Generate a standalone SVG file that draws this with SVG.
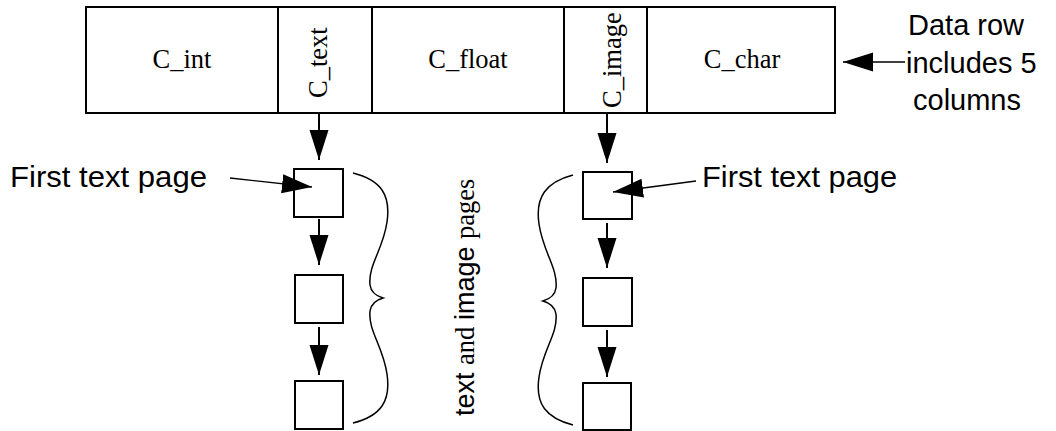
<svg xmlns="http://www.w3.org/2000/svg" width="1056" height="431" viewBox="0 0 1056 431">
  <style>
    .box { fill: #fff; stroke: #000; stroke-width: 2; }
    .link { fill: none; stroke: #000; stroke-width: 2; }
    .ptr { fill: none; stroke: #000; stroke-width: 1.3; }
    .brace { fill: none; stroke: #000; stroke-width: 1.5; }
    .serif { font-family: "Liberation Serif", "Times New Roman", serif; font-size: 26.5px; fill: #000; }
    .sans { font-family: "Liberation Sans", Arial, sans-serif; font-size: 29px; fill: #000; }
    .big { font-size: 30px; }
    .mid { font-size: 27px; }
  </style>
  <defs>
    <marker id="head" markerUnits="userSpaceOnUse" markerWidth="32" markerHeight="20" refX="30" refY="9.5" orient="auto">
      <path d="M0,0 L30,9.5 L0,19 Z" fill="#000"/>
    </marker>
  </defs>

  <!-- data row with five columns -->
  <g id="row">
    <rect class="box" x="86" y="7" width="749" height="106"/>
    <line class="link" x1="278" y1="7" x2="278" y2="113"/>
    <line class="link" x1="372" y1="7" x2="372" y2="113"/>
    <line class="link" x1="564" y1="7" x2="564" y2="113"/>
    <line class="link" x1="647" y1="7" x2="647" y2="113"/>
    <text class="serif" x="182" y="68" text-anchor="middle">C_int</text>
    <text class="serif" transform="translate(327,98) rotate(-90)">C_text</text>
    <text class="serif" x="468" y="68" text-anchor="middle">C_float</text>
    <text class="serif" transform="translate(621,108) rotate(-90)">C_image</text>
    <text class="serif" x="742" y="68" text-anchor="middle">C_char</text>
  </g>

  <!-- text page chain -->
  <g id="text-page-1"><rect class="box" x="294" y="169" width="49" height="48"/></g>
  <g id="text-page-2"><rect class="box" x="295" y="275" width="48" height="48"/></g>
  <g id="text-page-3"><rect class="box" x="295" y="381" width="48" height="48"/></g>

  <!-- image page chain -->
  <g id="image-page-1"><rect class="box" x="583" y="172" width="49" height="47"/></g>
  <g id="image-page-2"><rect class="box" x="583" y="278" width="49" height="48"/></g>
  <g id="image-page-3"><rect class="box" x="583" y="383" width="48" height="47"/></g>

  <!-- labels -->
  <g id="label-left">
    <text class="sans big" x="10" y="187" textLength="197" lengthAdjust="spacingAndGlyphs">First text page</text>
  </g>
  <g id="label-right">
    <text class="sans big" x="702" y="187" textLength="195" lengthAdjust="spacingAndGlyphs">First text page</text>
  </g>
  <g id="label-row">
    <text class="sans" x="908" y="35">Data row</text>
    <text class="sans" x="906" y="73">includes 5</text>
    <text class="sans" x="913" y="110">columns</text>
  </g>
  <g id="label-pages">
    <text transform="translate(474,416) rotate(-90)"><tspan class="sans mid">text </tspan><tspan class="serif">and </tspan><tspan class="sans mid">image </tspan><tspan class="serif">pages</tspan></text>
  </g>

  <!-- braces -->
  <g id="braces">
    <path class="brace" d="M353,173 C381,180 391,195 387,222 C383,250 368,265 370,285 C371,292 376,296 383,298 C376,300 371,304 370,311 C368,331 383,346 387,374 C391,401 381,416 353,423"/>
    <path class="brace" d="M573,175 C546,182 535,197 539,224 C543,252 558,268 556,288 C555,295 550,299 543,301 C550,303 555,307 556,314 C558,334 543,349 539,377 C535,404 546,418 573,425"/>
  </g>

  <!-- connectors -->
  <g id="connectors">
    <line class="link" x1="319" y1="113" x2="319" y2="160" marker-end="url(#head)"/>
    <line class="link" x1="319" y1="219" x2="319" y2="265" marker-end="url(#head)"/>
    <line class="link" x1="319" y1="327" x2="319" y2="375" marker-end="url(#head)"/>
    <line class="link" x1="607" y1="113" x2="607" y2="163" marker-end="url(#head)"/>
    <line class="link" x1="607" y1="223" x2="607" y2="268" marker-end="url(#head)"/>
    <line class="link" x1="607" y1="330" x2="607" y2="377" marker-end="url(#head)"/>
    <line class="ptr" x1="230" y1="178" x2="312" y2="187" marker-end="url(#head)"/>
    <line class="ptr" x1="696" y1="181" x2="613" y2="192" marker-end="url(#head)"/>
    <line class="ptr" x1="905" y1="62" x2="843" y2="62" marker-end="url(#head)"/>
  </g>
</svg>
